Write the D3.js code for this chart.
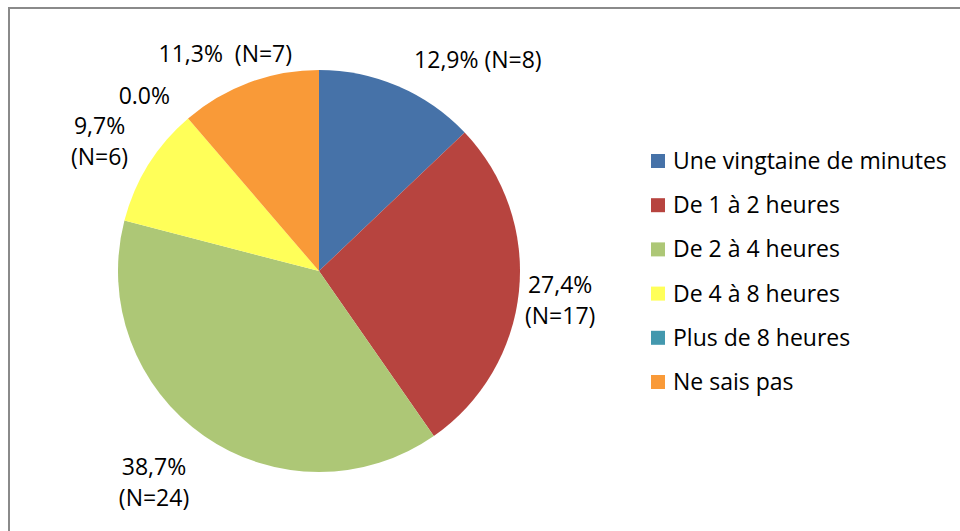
<!DOCTYPE html>
<html><head><meta charset="utf-8">
<script src="https://cdn.jsdelivr.net/npm/d3@7"></script>
<style>body{margin:0;background:#fff;} text{font-family:"Open Sans", sans-serif; white-space:pre;}</style>
</head><body>
<svg id="c" width="960" height="531"></svg>
<script>
const categories = ["Une vingtaine de minutes","De 1 à 2 heures","De 2 à 4 heures","De 4 à 8 heures","Plus de 8 heures","Ne sais pas"];
const counts = [8, 17, 24, 6, 0, 7];
const percentLabels = ["12,9% (N=8)", "27,4%\n(N=17)", "38,7%\n(N=24)", "9,7%\n(N=6)", "0.0%", "11,3%  (N=7)"];
const colors = ["#4672A8","#B7443F","#ADC776","#FFFF59","#4398AE","#F99A38"];

// layout (label placement in polar terms relative to the pie centre)
const labelLayout = [
  {angle: 37, dist: 264},
  {angle: 97, dist: 243},
  {angle: 218, dist: 268},
  {angle: 300.6, dist: 255},
  {angle: 315, dist: 247},
  {angle: 336.6, dist: 236}
];

const svg = d3.select("#c");
svg.append("rect").attr("x",9).attr("y",8).attr("width",980).attr("height",560)
  .attr("fill","none").attr("stroke","#8a8a8a").attr("stroke-width",2);

const cx = 319, cy = 271, r = 201;
const g = svg.append("g").attr("transform",`translate(${cx},${cy})`);
const pie = d3.pie().sort(null).value(d=>d)(counts);
const arc = d3.arc().innerRadius(0).outerRadius(r);
g.selectAll("path").data(pie).join("path")
  .attr("d", arc).attr("fill",(d,i)=>colors[i]);

const fs = 23;
g.selectAll("text.lbl").data(pie).join("text").attr("class","lbl")
  .each(function(d,i){
    const L = labelLayout[i];
    const a = L.angle*Math.PI/180;
    const x = L.dist*Math.sin(a), y = -L.dist*Math.cos(a);
    const lines = percentLabels[i].split("\n");
    const t = d3.select(this).attr("text-anchor","middle").attr("font-size",fs).attr("fill","#000");
    const lh = 31;
    lines.forEach((ln,k)=>{
      t.append("tspan").attr("x",x).attr("y", y + (k-(lines.length-1)/2)*lh).attr("dy","0.35em").text(ln);
    });
  });

const leg = svg.append("g").attr("transform","translate(651,161)");
const rows = leg.selectAll("g").data(categories).join("g")
  .attr("transform",(d,i)=>`translate(0,${i*44.2})`);
rows.append("rect").attr("x",0).attr("y",-7).attr("width",14).attr("height",14).attr("fill",(d,i)=>colors[i]);
rows.append("text").attr("x",22).attr("y",0).attr("dy","0.35em").attr("font-size",fs).attr("fill","#000").text(d=>d);
</script>
</body></html>
